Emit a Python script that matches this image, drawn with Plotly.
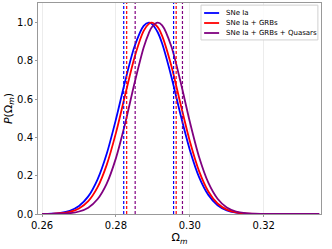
import plotly.graph_objects as go

# ---- data ----
omega_m = [0.2600, 0.2625, 0.2650, 0.2675, 0.2700, 0.2725, 0.2750, 0.2775, 0.2800,
           0.2825, 0.2850, 0.2875, 0.2889, 0.2897, 0.2913, 0.2925, 0.2950, 0.2975,
           0.3000, 0.3025, 0.3050, 0.3075, 0.3100, 0.3125, 0.3150, 0.3175, 0.3200,
           0.3250, 0.3300, 0.3350]

p_sne = [0.0006, 0.002, 0.006, 0.017, 0.042, 0.092, 0.180, 0.315, 0.495,
         0.695, 0.874, 0.983, 1.000, 0.994, 0.950, 0.891, 0.718, 0.518,
         0.335, 0.193, 0.100, 0.046, 0.019, 0.007, 0.002, 0.0007, 0.0002,
         0.0, 0.0, 0.0]

p_sne_grb = [0.0003, 0.001, 0.004, 0.011, 0.029, 0.067, 0.139, 0.257, 0.424,
             0.623, 0.817, 0.957, 0.994, 1.000, 0.977, 0.931, 0.774, 0.574,
             0.380, 0.224, 0.118, 0.055, 0.023, 0.009, 0.003, 0.0009, 0.0002,
             0.0, 0.0, 0.0]

p_sne_grb_qso = [0.0001, 0.0003, 0.0013, 0.004, 0.013, 0.033, 0.077, 0.159, 0.292,
                 0.474, 0.682, 0.870, 0.946, 0.976, 1.000, 0.986, 0.876, 0.690,
                 0.482, 0.298, 0.164, 0.080, 0.034, 0.013, 0.0044, 0.0013, 0.0004,
                 0.0, 0.0, 0.0]

series_names = ["SNe Ia", "SNe Ia + GRBs", "SNe Ia + GRBs + Quasars"]
series_colors = ["#0000ff", "#ff0000", "#800080"]

# 1-sigma bounds (dashed vertical lines)
bounds_sne = [0.2821, 0.2956]
bounds_sne_grb = [0.2829, 0.2963]
bounds_sne_grb_qso = [0.2852, 0.2980]

x_ticks = [0.26, 0.28, 0.30, 0.32]
x_tick_labels = ["0.26", "0.28", "0.30", "0.32"]
y_ticks = [0.0, 0.2, 0.4, 0.6, 0.8, 1.0]
y_tick_labels = ["0.0", "0.2", "0.4", "0.6", "0.8", "1.0"]

# ---- figure ----
fig = go.Figure()
all_p = [p_sne, p_sne_grb, p_sne_grb_qso]
all_bounds = [bounds_sne, bounds_sne_grb, bounds_sne_grb_qso]

for name, col, p in zip(series_names, series_colors, all_p):
    fig.add_trace(go.Scatter(x=omega_m, y=p, mode="lines", name=name, showlegend=False,
                             line=dict(color=col, width=1.8, shape="spline", smoothing=0.8)))

for col, bnds in zip(series_colors, all_bounds):
    for b in bnds:
        fig.add_shape(type="line", xref="x", yref="paper", x0=b, x1=b, y0=0, y1=1,
                      line=dict(color=col, width=1.2, dash="3px,2px"))

# compact legend box (matplotlib style), built in paper coordinates
leg_x0, leg_x1, leg_y0, leg_y1 = 0.576, 0.989, 0.825, 0.990
fig.add_shape(type="rect", xref="paper", yref="paper", x0=leg_x0, x1=leg_x1,
              y0=leg_y0, y1=leg_y1, line=dict(color="#d0d0d0", width=1),
              fillcolor="rgba(255,255,255,0.85)", layer="above")
row_y = [0.9526, 0.9052, 0.8578]
for name, col, yy in zip(series_names, series_colors, row_y):
    fig.add_shape(type="line", xref="paper", yref="paper", x0=0.587, x1=0.640,
                  y0=yy, y1=yy, line=dict(color=col, width=1.8), layer="above")
    fig.add_annotation(xref="paper", yref="paper", x=0.657, y=yy, text=name,
                       showarrow=False, xanchor="left", yanchor="middle",
                       font=dict(size=7, color="black", family="DejaVu Sans"))

font_family = "DejaVu Sans"
fig.update_layout(
    width=332, height=249,
    margin=dict(l=38, r=11, t=3, b=35),
    paper_bgcolor="white", plot_bgcolor="white",
    font=dict(family=font_family, color="black", size=10),
    showlegend=False,
)
fig.update_xaxes(range=[0.2589, 0.3355], tickvals=x_ticks, ticktext=x_tick_labels,
                 showgrid=True, gridcolor="#ececec", gridwidth=1,
                 showline=True, linecolor="#999999", linewidth=1, mirror=True,
                 ticks="outside", ticklen=2, tickcolor="#999999",
                 zeroline=False, tickfont=dict(size=10),
                 title=dict(text="Ω<sub><i>m</i></sub>", font=dict(size=11), standoff=3))
fig.update_yaxes(range=[0, 1.103], tickvals=y_ticks, ticktext=y_tick_labels,
                 showgrid=False,
                 showline=True, linecolor="#999999", linewidth=1, mirror=True,
                 ticks="outside", ticklen=2, tickcolor="#999999",
                 zeroline=False, tickfont=dict(size=10),
                 title=dict(text="<i>P</i>(Ω<sub><i>m</i></sub>)", font=dict(size=11), standoff=2))

fig.write_html("out.html", config={"displayModeBar": False},
               post_script="document.body.style.margin='0px';document.body.style.overflow='hidden';")
